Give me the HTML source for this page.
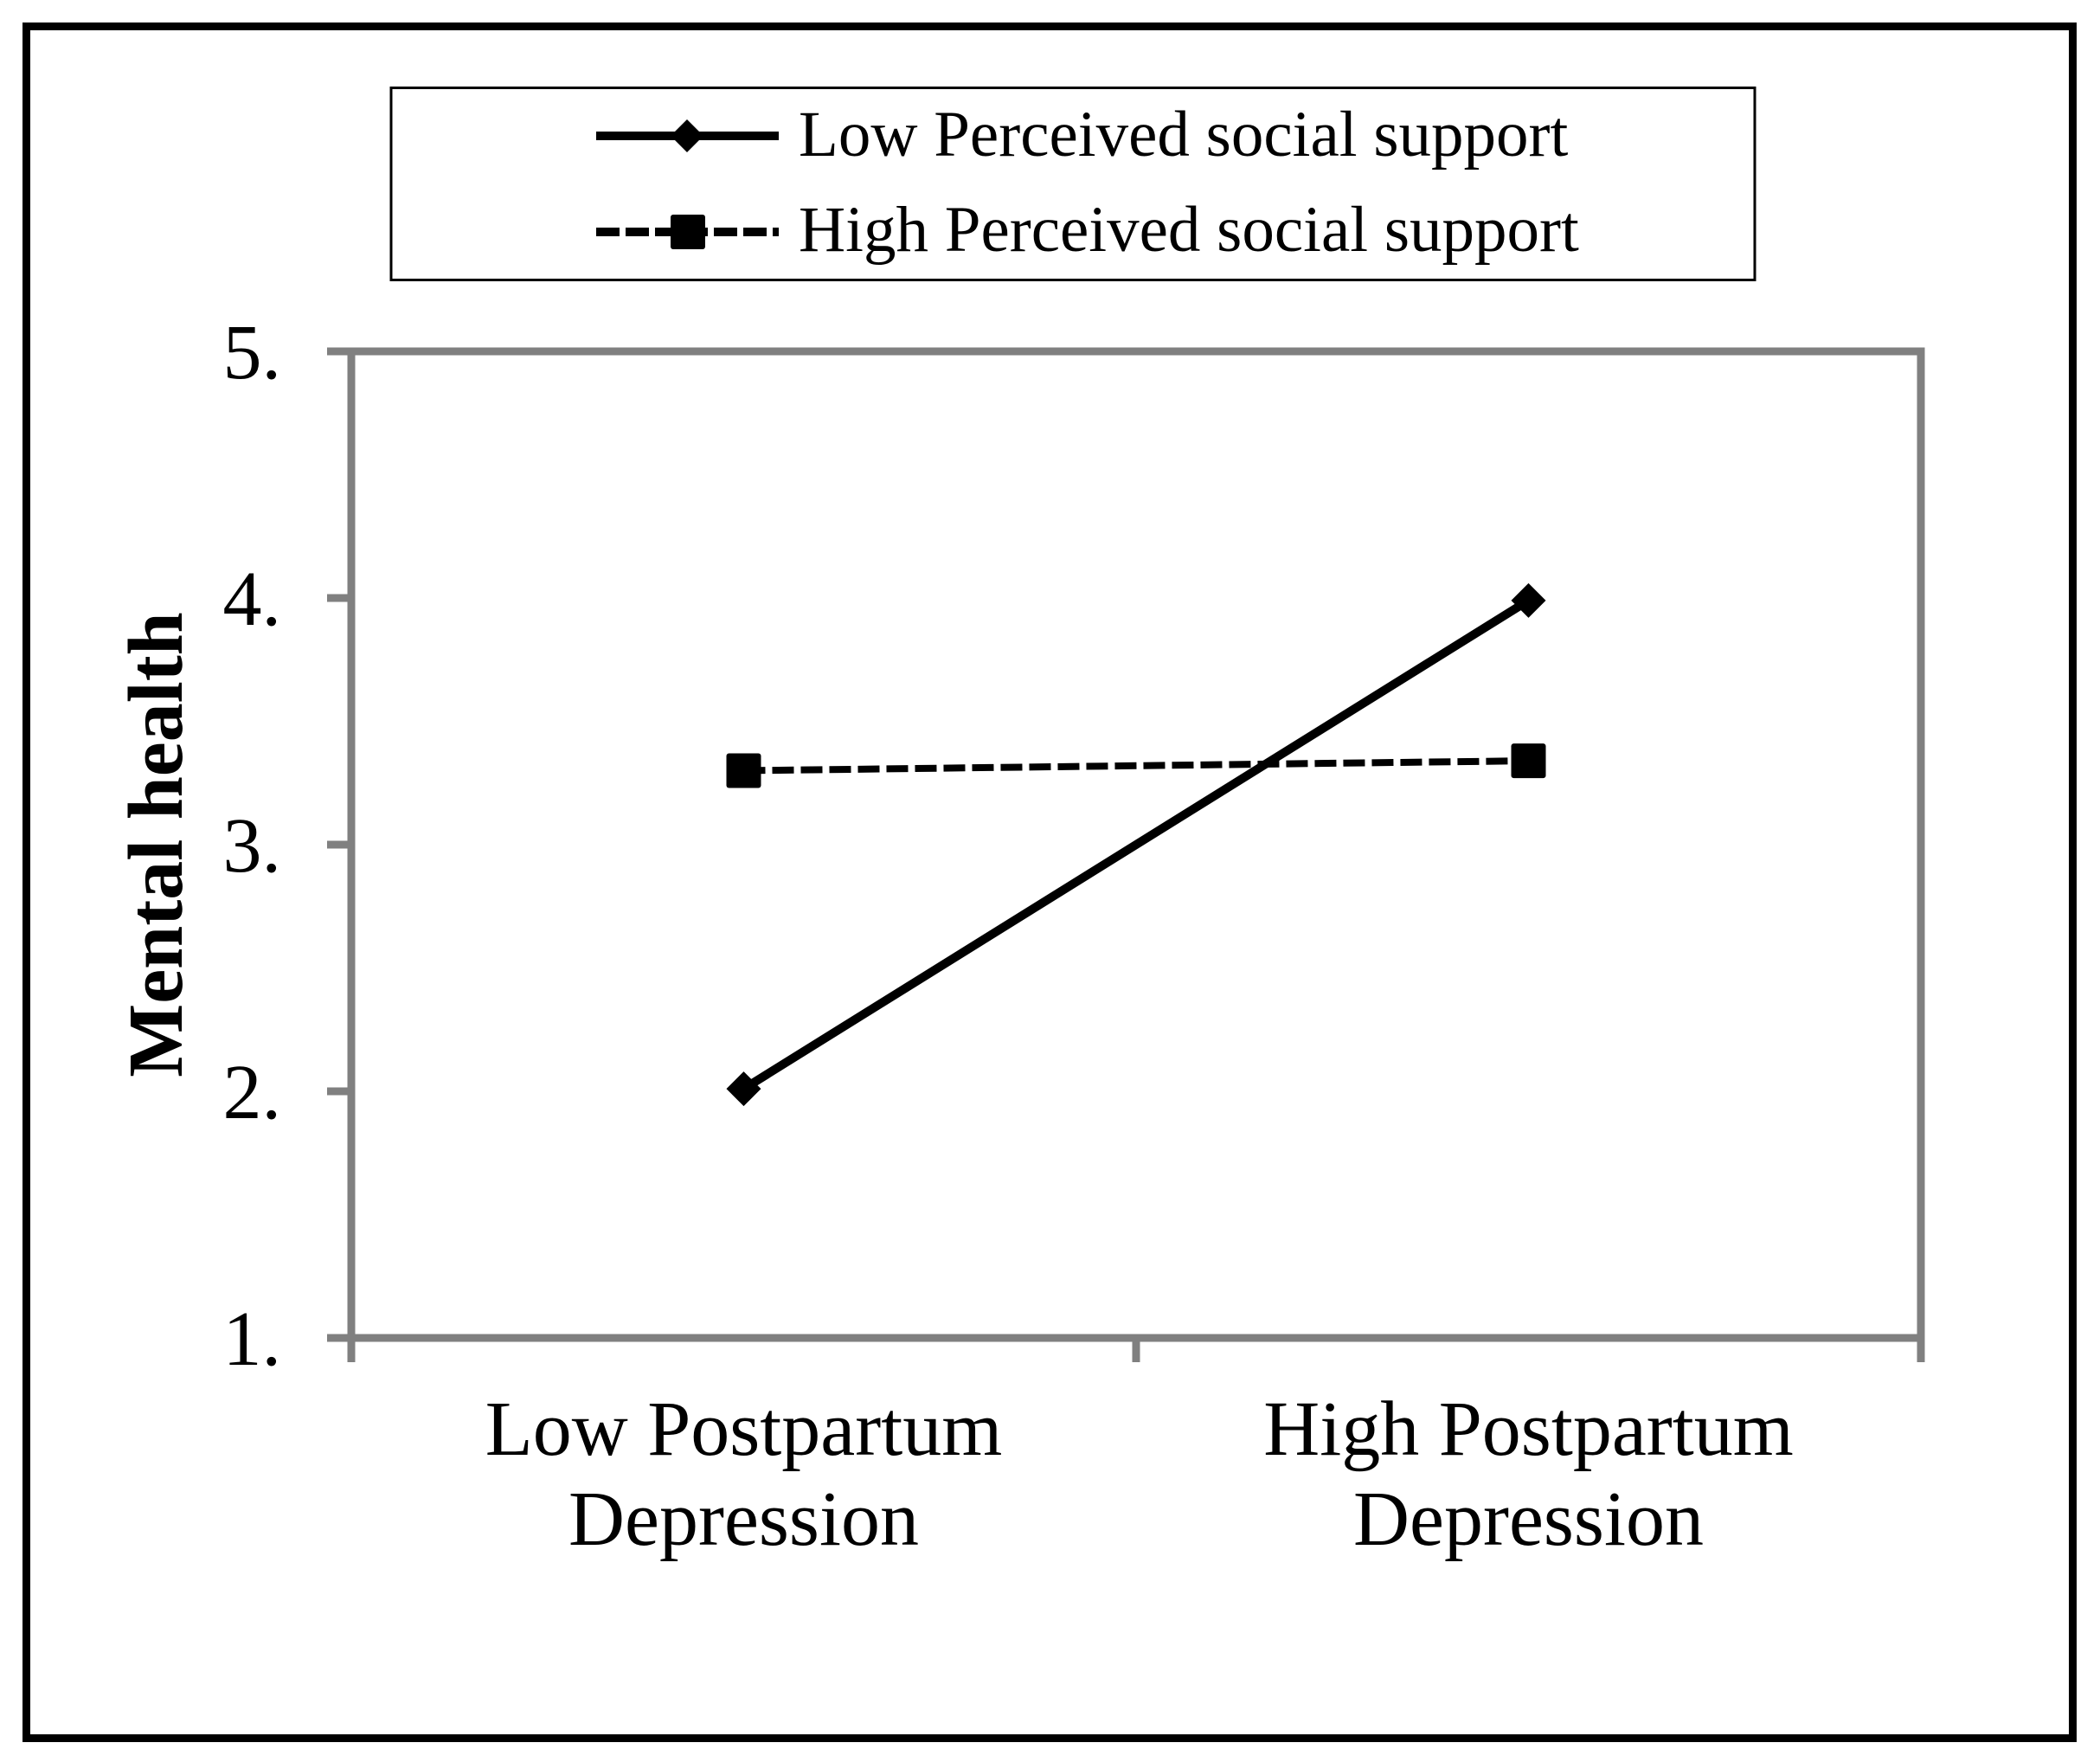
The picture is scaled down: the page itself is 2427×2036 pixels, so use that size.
<!DOCTYPE html>
<html><head><meta charset="utf-8"><style>
html,body{margin:0;padding:0;background:#fff}
svg{display:block}
text{font-family:"Liberation Serif",serif;fill:#000}
</style></head><body>
<svg id="chart" width="2427" height="2036" viewBox="0 0 2427 2036">
<rect x="30.5" y="30.5" width="2365" height="1978" fill="none" stroke="#000" stroke-width="9"/>
<g>
<rect x="452" y="101.5" width="1576" height="222" fill="#fff" stroke="#000" stroke-width="3"/>
<g>
<line x1="689" y1="157" x2="900" y2="157" stroke="#000" stroke-width="10"/>
<polygon points="794,138 813,157 794,176 775,157" fill="#000"/>
<text x="923" y="180" font-size="75">Low Perceived social support</text>
</g>
<g>
<line x1="689" y1="268" x2="900" y2="268" stroke="#000" stroke-width="10" stroke-dasharray="27 7"/>
<rect x="775" y="248" width="40" height="40" rx="3" fill="#000"/>
<text x="923" y="290" font-size="75">High Perceived social support</text>
</g>
</g>
<g id="axes"></g>
<g id="marks"></g>
<text transform="translate(210,976) rotate(-90)" text-anchor="middle" font-size="90" font-weight="bold">Mental health</text>
</svg>
<script>
const categories = [["Low Postpartum","Depression"],["High Postpartum","Depression"]];
const lowSupport = [2.01, 3.99];
const highSupport = [3.30, 3.34];
const yTicks = [1,2,3,4,5];
const yTickLabels = ["1.","2.","3.","4.","5."];

const X0=406, X1=2220, Y0=1546, Y1=406, YMIN=1, YMAX=5;
function yPos(v){return Y0-(v-YMIN)/(YMAX-YMIN)*(Y0-Y1);}
function xPos(i){const w=(X1-X0)/categories.length;return X0+w*(i+0.5);}
const NS="http://www.w3.org/2000/svg";
function mk(tag,attrs,parent){const e=document.createElementNS(NS,tag);for(const k in attrs)e.setAttribute(k,attrs[k]);parent.appendChild(e);return e;}
const axes=document.getElementById('axes'), marks=document.getElementById('marks');
const G="#808080";
let e=mk('rect',{x:X0,y:Y1,width:X1-X0,height:Y0-Y1,fill:'none',stroke:G,'stroke-width':9},axes);


yTicks.forEach((t,i)=>{
  const y=yPos(t);
  let tk=mk('line',{x1:X0-28,y1:y,x2:X0,y2:y,stroke:G,'stroke-width':9},axes);
  
  
  let lb=mk('text',{x:325,y:y+31,'text-anchor':'end','font-size':90},axes);
  lb.textContent=yTickLabels[i];
  
  
});
for(let i=0;i<=categories.length;i++){
  const x=X0+(X1-X0)/categories.length*i;
  let tk=mk('line',{x1:x,y1:Y0,x2:x,y2:Y0+28,stroke:G,'stroke-width':9},axes);
  
  
}
categories.forEach((c,i)=>{
  c.forEach((ln,j)=>{
    let t=mk('text',{x:xPos(i),y:1681+j*104,'text-anchor':'middle','font-size':90},axes);
    t.textContent=ln;
    
    
  });
});
let pl=mk('polyline',{points:highSupport.map((v,i)=>xPos(i)+','+yPos(v)).join(' '),fill:'none',stroke:'#000','stroke-width':8,'stroke-dasharray':'25 8'},marks);


highSupport.forEach((v,i)=>{
  let r=mk('rect',{x:xPos(i)-20,y:yPos(v)-20,width:40,height:40,rx:3,fill:'#000'},marks);
  
  
});
let pl2=mk('polyline',{points:lowSupport.map((v,i)=>xPos(i)+','+yPos(v)).join(' '),fill:'none',stroke:'#000','stroke-width':10},marks);


lowSupport.forEach((v,i)=>{
  const x=xPos(i),y=yPos(v);
  let d=mk('polygon',{points:`${x},${y-20} ${x+20},${y} ${x},${y+20} ${x-20},${y}`,fill:'#000'},marks);
  
  
});
</script>
</body></html>
